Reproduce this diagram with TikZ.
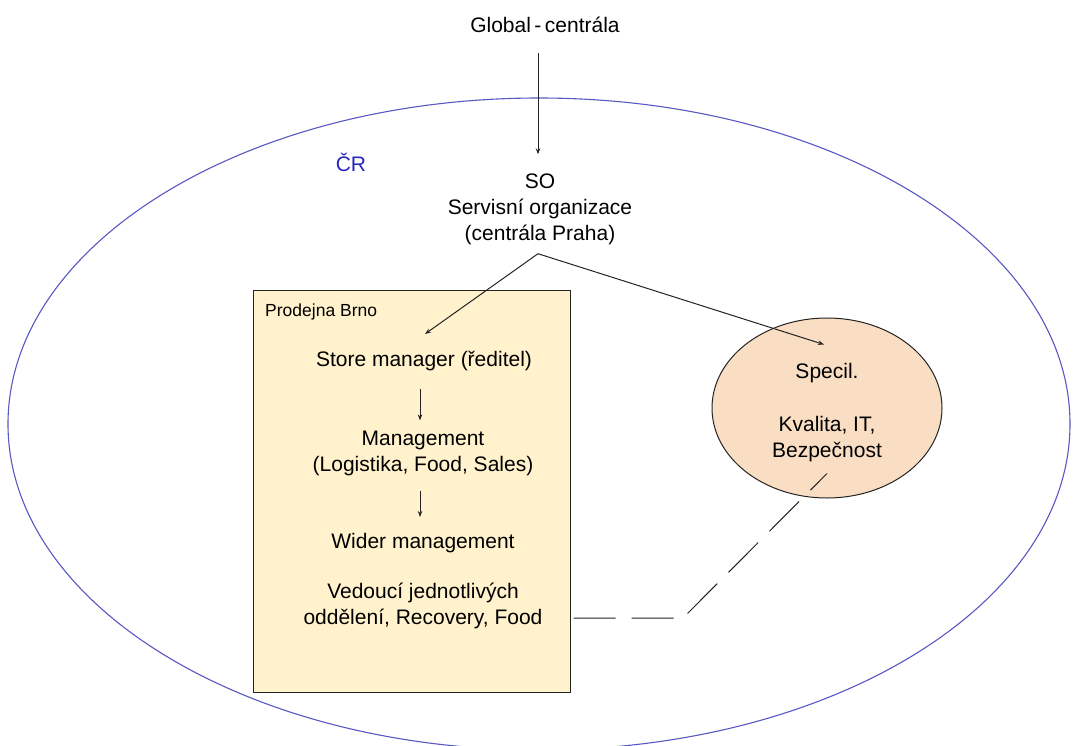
\documentclass[tikz,border=0pt]{standalone}
\usepackage{fontspec}
\setmainfont{Liberation Sans}
\usetikzlibrary{shapes.geometric,arrows.meta,calc}

\definecolor{crblue}{RGB}{40,40,190}
\definecolor{crline}{RGB}{88,88,195}
\definecolor{boxfill}{RGB}{255,242,204}
\definecolor{specfill}{RGB}{249,222,196}
\definecolor{ink}{RGB}{35,35,35}

\tikzset{
  txt/.style={inner sep=0pt, align=center, text=black,
    font=\fontsize{21}{26}\selectfont},
  smalltxt/.style={inner sep=0pt, text=black,
    font=\fontsize{17.5}{21}\selectfont},
  region/.style={draw=crline, line width=1.1pt, ellipse, inner sep=0pt,
    minimum width=1062pt, minimum height=652pt},
  storebox/.style={draw=ink, fill=boxfill, line width=1pt, inner sep=0pt,
    minimum width=317pt, minimum height=402pt},
  specbox/.style={draw=ink, fill=specfill, line width=1pt, ellipse,
    inner sep=0pt, minimum width=230pt, minimum height=180pt},
  link/.style={draw=ink, line width=1pt,
    -{Stealth[length=6pt,width=4.5pt]}},
  dashlink/.style={draw=ink, line width=1pt, dash pattern=on 42pt off 16pt}
}

\begin{document}
\begin{tikzpicture}[x=1pt,y=-1pt]
  \useasboundingbox (0,0) rectangle (1074,745);

  % country region
  \node[region] (cr) at (539,424) {};
  \node[text=crblue, inner sep=0pt, font=\fontsize{21}{26}\selectfont]
    (crlabel) at (351,162) {ČR};

  % headquarters and service organisation
  \node[txt] (global) at (545,25) {Global\,-\,centrála};
  \node[txt] (so) at (540,209) {SO\\Servisní organizace\\(centrála Praha)};

  % store in Brno
  \node[storebox] (brno) at (411.5,491) {};
  \node[smalltxt, anchor=west] (brnolabel) at (265,312) {Prodejna Brno};
  \node[txt] (store) at (424,361) {Store manager (ředitel)};
  \node[txt] (mgmt) at (423,453) {Management\\(Logistika, Food, Sales)};
  \node[txt] (wider) at (423,543) {Wider management};
  \node[txt] (vedouci) at (423,605.5) {Vedoucí jednotlivých\\oddělení, Recovery, Food};

  % specialists
  \node[specbox] (spec) at (827,408) {};
  \node[txt] (spectext) at (827,413) {Specil.\\[27pt]Kvalita, IT,\\Bezpečnost};

  % connectors
  \draw[link] ($(global.south)+(-7,20)$) -- ($(so.north)+(-2,-19)$);
  \coordinate (split) at ($(so.south)+(-2,9)$);
  \draw[link] (split) -- ($(store.north)+(1,-17)$);
  \draw[link] (split) -- ($(spec.north)+(-3,27)$);
  \draw[link] ($(store.south)+(-4,18)$) -- ($(mgmt.north)+(-3,-10)$);
  \draw[link] ($(mgmt.south)+(-3,15)$) -- ($(wider.north)+(-3,-16)$);

  \coordinate (bend) at (683,618);
  \draw[dashlink] ($(brno.east |- vedouci.center)+(3,12.5)$) -- (bend)
    -- ($(spec.south)+(0,-25)$);
\end{tikzpicture}
\end{document}
